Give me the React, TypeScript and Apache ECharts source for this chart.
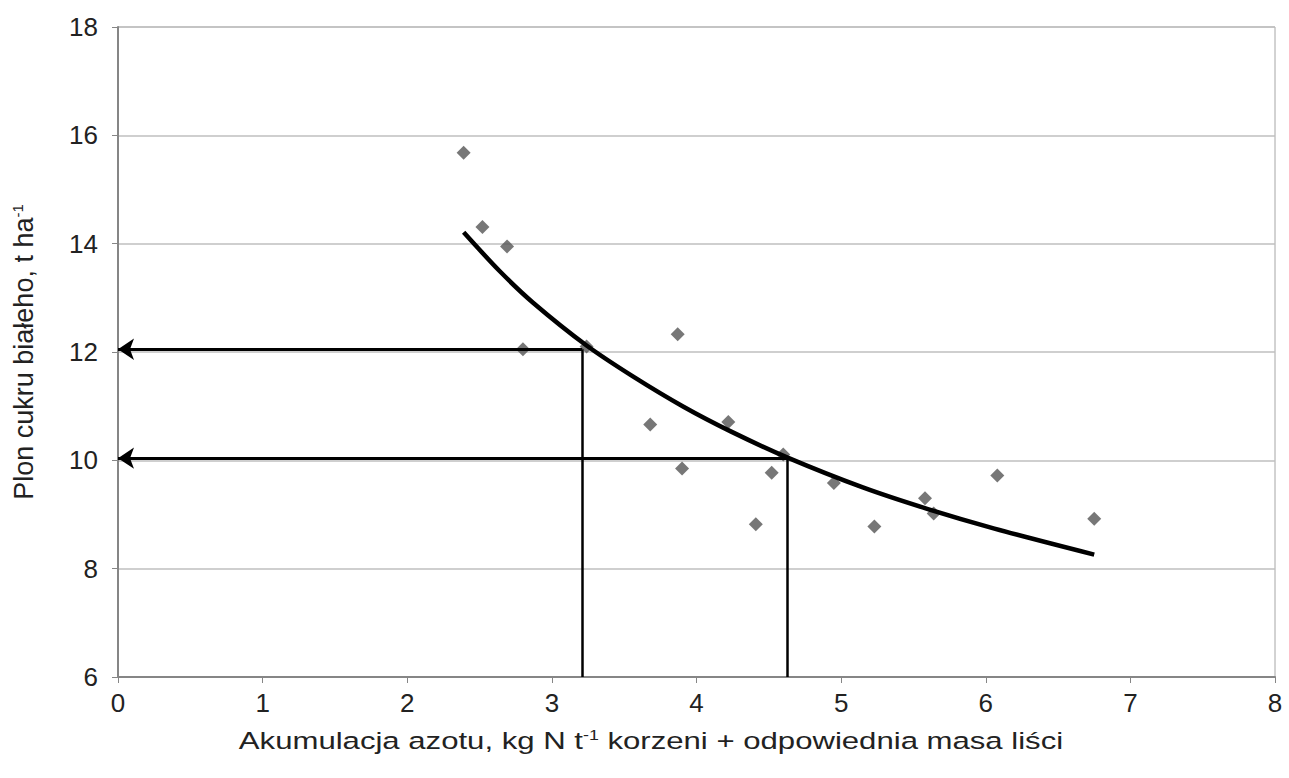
import React, { useEffect, useRef } from "react";
import * as echarts from "echarts";

const xTicks = [0, 1, 2, 3, 4, 5, 6, 7, 8];
const yTicks = [6, 8, 10, 12, 14, 16, 18];

// measured points: nitrogen accumulation (x) vs white sugar yield (y)
const pointX = [2.39, 2.52, 2.69, 2.8, 3.24, 3.87, 3.68, 3.9, 4.22, 4.41, 4.52, 4.6, 4.95, 5.23, 5.58, 5.64, 6.08, 6.75];
const pointY = [15.68, 14.31, 13.95, 12.05, 12.1, 12.33, 10.66, 9.85, 10.71, 8.82, 9.77, 10.11, 9.58, 8.78, 9.3, 9.02, 9.72, 8.92];

// trend curve
const curveX = [2.39, 2.64, 2.87, 3.24, 3.56, 3.91, 4.24, 4.63, 5.15, 5.6, 6.06, 6.75];
const curveY = [14.21, 13.49, 12.91, 12.12, 11.55, 10.99, 10.53, 10.05, 9.5, 9.1, 8.74, 8.26];

// read-off guides
const guideX = [3.21, 4.63];
const guideY = [12.05, 10.04];

export default function App() {
  const ref = useRef<HTMLDivElement>(null);
  useEffect(() => {
    if (!ref.current) return;
    const chart = echarts.init(ref.current, undefined, { renderer: "svg" });
    const font = "Liberation Sans, Arial, sans-serif";
    const textColor = "#222";
    const guideSeries: any[] = [];
    guideX.forEach((gx, i) => {
      guideSeries.push({
        type: "lines",
        coordinateSystem: "cartesian2d",
        polyline: false,
        symbol: ["none", "none"],
        lineStyle: { color: "#000", width: 2.5, opacity: 1 },
        data: [{ coords: [[gx, 6], [gx, guideY[i]]] }],
        z: 3,
      });
      guideSeries.push({
        type: "lines",
        coordinateSystem: "cartesian2d",
        symbol: ["none", "arrow"],
        symbolSize: [15, 16],
        lineStyle: { color: "#000", width: 3, opacity: 1 },
        data: [{ coords: [[gx, guideY[i]], [0, guideY[i]]] }],
        z: 3,
      });
    });
    chart.setOption({
      animation: false,
      backgroundColor: "#fff",
      grid: {
        left: 118,
        right: 14,
        top: 27,
        bottom: 101,
        show: true,
        borderColor: "#a6a6a6",
        borderWidth: 1,
      },
      xAxis: {
        type: "value",
        min: 0,
        max: 8,
        interval: 1,
        axisLine: { show: true, lineStyle: { color: "#868686", width: 2 } },
        axisTick: { show: true, length: 6, lineStyle: { color: "#868686", width: 1 } },
        axisLabel: { color: textColor, fontSize: 26, fontFamily: font, margin: 13 },
        splitLine: { show: false },
      },
      yAxis: {
        type: "value",
        min: 6,
        max: 18,
        interval: 2,
        axisLine: { show: true, lineStyle: { color: "#868686", width: 2 } },
        axisTick: { show: true, length: 6, lineStyle: { color: "#868686", width: 1 } },
        axisLabel: { color: textColor, fontSize: 26, fontFamily: font, margin: 20 },
        splitLine: { show: true, lineStyle: { color: "#bfbfbf", width: 1.5 } },
      },
      graphic: [
        {
          type: "text",
          x: 651,
          y: 741,
          scaleX: 1.27,
          style: {
            text: "{a|Akumulacja azotu, kg N t}{s|-1}{a| korzeni + odpowiednia masa liści}",
            align: "center",
            verticalAlign: "middle",
            rich: {
              a: { fontSize: 24.5, fontFamily: font, fill: textColor },
              s: { fontSize: 14, fontFamily: font, fill: textColor, padding: [0, 0, 12, 0] },
            },
          },
        },
        {
          type: "text",
          x: 24,
          y: 352,
          rotation: Math.PI / 2,
          style: {
            text: "{a|Plon cukru białeho, t ha}{s|-1}",
            align: "center",
            verticalAlign: "middle",
            rich: {
              a: { fontSize: 27, fontFamily: font, fill: textColor },
              s: { fontSize: 15, fontFamily: font, fill: textColor, padding: [0, 0, 13, 0] },
            },
          },
        },
      ],
      series: [
        ...guideSeries,
        {
          type: "line",
          data: curveX.map((x, i) => [x, curveY[i]]),
          smooth: 0.3,
          showSymbol: false,
          symbol: "none",
          lineStyle: { color: "#000", width: 4.5 },
          z: 4,
        },
        {
          type: "scatter",
          data: pointX.map((x, i) => [x, pointY[i]]),
          symbol: "diamond",
          symbolSize: 14,
          itemStyle: { color: "#555555" },
          z: 2,
        },
      ],
    });
    return () => chart.dispose();
  }, []);
  return <div ref={ref} style={{ width: 1289, height: 778, position: "absolute", left: 0, top: 0 }} />;
}
